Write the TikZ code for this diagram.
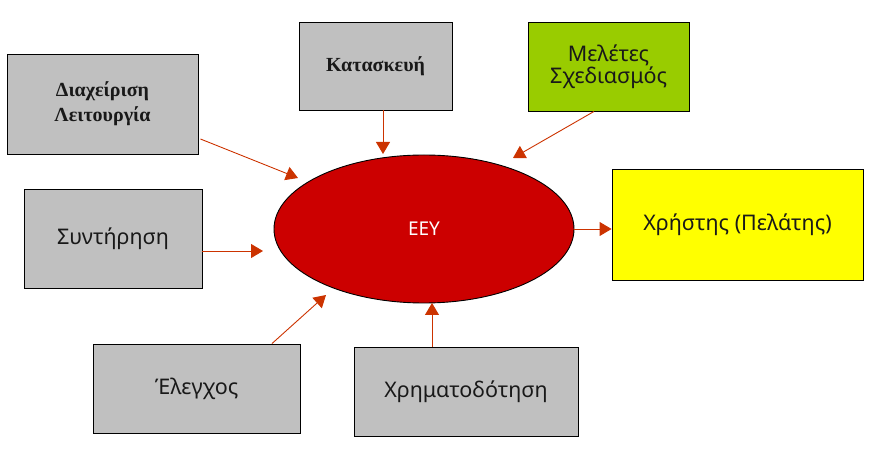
\documentclass[tikz,border=0pt]{standalone}
\usepackage{fontspec}
\setmainfont{Noto Sans}
\newfontfamily\serifb{Liberation Serif}
\usetikzlibrary{arrows.meta,shapes.geometric,calc}
\definecolor{boxgray}{HTML}{C0C0C0}
\definecolor{boxgreen}{HTML}{99CC00}
\definecolor{boxyellow}{HTML}{FFFF00}
\definecolor{eeyred}{HTML}{CC0000}
\definecolor{arrowred}{HTML}{CC3300}
\tikzset{
  box/.style={draw=black, line width=0.9pt, fill=boxgray, rectangle, inner sep=0pt, align=center, text=black!90},
  sanstext/.style={font=\fontsize{21.5}{24}\selectfont},
  seriftext/.style={font=\serifb\bfseries\fontsize{20}{25}\selectfont},
  link/.style={draw=arrowred, line width=0.9pt, -{Triangle[length=12pt,width=14pt]}}
}
\begin{document}
\begin{tikzpicture}[x=1pt,y=-1pt]
\path[use as bounding box] (0,0) rectangle (873,470);
\node[box, seriftext, minimum width=191pt, minimum height=100pt] (diax) at (102.5,104) {Διαχείριση\\Λειτουργία};
\node[box, seriftext, minimum width=153pt, minimum height=88pt] (kat) at (375.5,66) {Κατασκευή};
\node[box, fill=boxgreen, minimum width=161pt, minimum height=89pt, font=\fontsize{21.5}{21}\selectfont] (mel) at (608.5,66.5) {Μελέτες\\Σχεδιασμός};
\node[box, sanstext, fill=boxyellow, minimum width=251pt, minimum height=111pt] (xri) at (737.5,224.5) {Χρήστης (Πελάτης)};
\node[box, sanstext, minimum width=178pt, minimum height=99pt] (syn) at (113,238.5) {Συντήρηση};
\node[box, sanstext, minimum width=207pt, minimum height=89pt] (ele) at (196.5,388.5) {Έλεγχος};
\node[box, sanstext, minimum width=224pt, minimum height=89pt] (chr) at (466,391.5) {Χρηματοδότηση};
\node[ellipse, draw=black, line width=0.9pt, fill=eeyred, text=white, font=\fontsize{19}{22}\selectfont, minimum width=300pt, minimum height=148pt, inner sep=0pt] (eey) at (424,229) {ΕΕΥ};
\coordinate (t1) at (298,178);
\coordinate (t2) at (383,154);
\coordinate (t3) at (513,158);
\coordinate (t4) at (263,251);
\coordinate (t5) at (326,295);
\coordinate (t6) at (432,303);
\draw[link] ([xshift=2pt,yshift=-35pt]diax.east) -- (t1);
\draw[link] ([xshift=7.5pt]kat.south) -- (t2);
\draw[link] ([xshift=-14.5pt]mel.south) -- (t3);
\draw[link] ([yshift=-12.5pt]syn.east) -- (t4);
\draw[link] ([xshift=75.5pt]ele.north) -- (t5);
\draw[link] ([xshift=-34pt]chr.north) -- (t6);
\draw[link] (eey.east) -- (eey.east -| xri.west);
\end{tikzpicture}
\end{document}
